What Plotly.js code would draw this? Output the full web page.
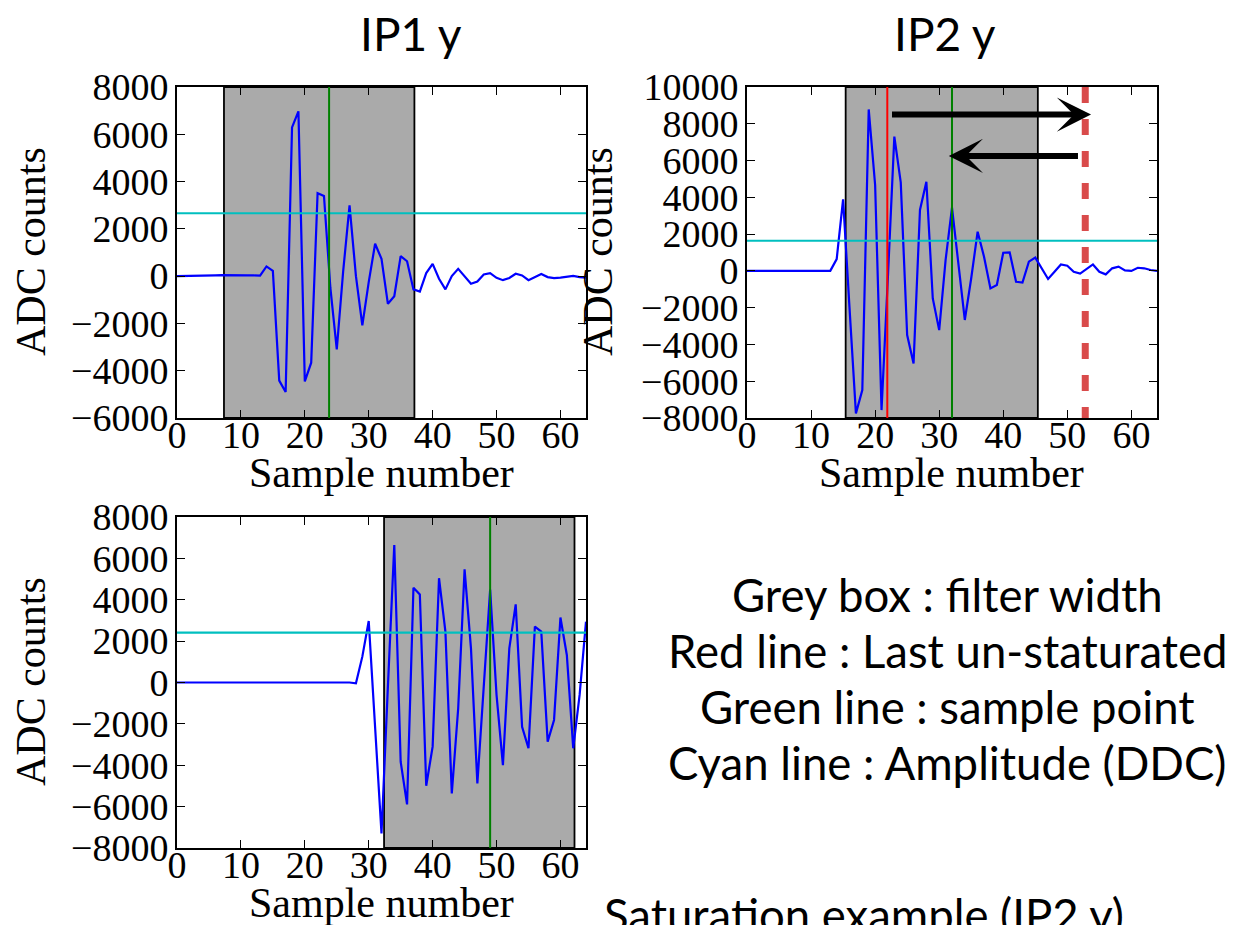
<!DOCTYPE html>
<html>
<head>
<meta charset="utf-8">
<script src="https://cdn.plot.ly/plotly-3.0.1.min.js"></script>
<style>html,body{margin:0;padding:0;background:#fff;}#chart{width:1245px;height:925px;}</style>
</head>
<body>
<div id="chart"></div>
<script>
// ---------- data ----------
const samples = Array.from({length: 65}, (_, i) => i);

const ip1Counts = [0,0,0,0,10,20,30,40,30,30,30,30,30,20,
  410,225,-4420,-4900,6290,6970,-4450,-3660,3510,3390,-500,-3100,200,2990,0,-2080,
  -250,1370,730,-1170,-850,850,630,-560,-650,130,520,-110,-560,0,310,0,-320,-230,
  70,130,-70,-170,-80,100,30,-170,-30,90,-40,-80,-60,-30,10,-40,-60];

const ip2Counts = [0,0,0,0,0,0,0,0,0,0,0,0,0,0,
  640,3890,-2000,-7750,-6480,8780,4670,-7570,-300,7300,4810,-3490,-5030,3310,4850,-1500,
  -3220,590,3440,500,-2670,-400,2130,770,-950,-770,990,1010,-590,-630,500,720,140,-440,
  -50,350,280,-50,-150,100,350,-50,-190,140,230,30,0,170,140,50,0];

const ip3Counts = [0,0,0,0,0,0,0,0,0,0,0,0,0,0,0,0,0,0,0,0,0,0,0,0,0,0,0,
  0,-40,1250,2970,-2200,-7300,-200,6650,-3830,-5890,4580,4260,-4990,-3100,5040,2460,
  -5360,-1250,5470,1650,-4880,30,4490,-600,-4000,1650,3780,-2140,-3180,2700,2460,
  -2860,-1810,3140,1330,-3180,-600,2940];

const panelTitles = ["IP1 y", "IP2 y"];
const filterStart = [7.35, 15.4, 32.4];    // grey box: filter width
const filterEnd   = [37.15, 45.4, 62.2];
const samplePoint = [23.8, 32.0, 49.0];     // green lines
const amplitude   = [2660, 1640, 2410];     // cyan lines (DDC)
const lastUnsaturated = 21.9;              // red line (IP2)
const saturationEnd   = 52.8;              // dashed red line (IP2)
const arrowTail = [22.4, 51.9];
const arrowHead = [53.7, 31.5];
const arrowLevel = [8500, 6250];

const xTicks = [0,10,20,30,40,50,60];
const yRanges = [[-6000, 8000], [-8000, 10000], [-8000, 8000]];
const legendLines = ["Grey box : filter width", "Red line : Last un-staturated",
                     "Green line : sample point", "Cyan line : Amplitude (DDC)"];
const footer = "Saturation example (IP2 y)";
const xLabel = "Sample number";
const yLabel = "ADC counts";

// ---------- styling ----------
const W = 1245, H = 925;
const serif = "Liberation Serif, Times New Roman, serif";
const sans = "Lato, Open Sans, sans-serif";
const px = v => v / W, py = v => 1 - v / H;

const series = [ip1Counts, ip2Counts, ip3Counts];
const axKeys = [["x","y"],["x2","y2"],["x3","y3"]];
const xDomains = [[px(177), px(586)], [px(747), px(1157)], [px(177), px(586)]];
const yDomains = [[py(418), py(87)], [py(418), py(87)], [py(848), py(517)]];

const traces = series.map((s, i) => ({
  x: samples, y: s, xaxis: axKeys[i][0], yaxis: axKeys[i][1],
  type: "scatter", mode: "lines", line: {color: "#0000ff", width: 2.2},
  hoverinfo: "skip", showlegend: false
}));

const layout = {
  width: W, height: H,
  margin: {l: 0, r: 0, t: 0, b: 0},
  paper_bgcolor: "#fff", plot_bgcolor: "#fff",
  showlegend: false,
  shapes: [], annotations: []
};

function axisX(i) {
  return {
    domain: xDomains[i], anchor: axKeys[i][1], range: [0, 64],
    tickvals: xTicks, ticktext: xTicks.map(String),
    ticks: "inside", ticklen: 8, tickwidth: 1, tickcolor: "#000",
    showline: true, linecolor: "#000", linewidth: 2, mirror: "ticks",
    showgrid: false, zeroline: false, ticklabelstandoff: -18,
    tickfont: {family: serif, size: 38, color: "#000"}
  };
}
function axisY(i) {
  return {
    domain: yDomains[i], anchor: axKeys[i][0], range: yRanges[i],
    dtick: 2000, tick0: 0,
    ticks: "inside", ticklen: 8, tickwidth: 1, tickcolor: "#000",
    showline: true, linecolor: "#000", linewidth: 2, mirror: "ticks",
    showgrid: false, zeroline: false, ticklabelstandoff: -1,
    tickformat: "d",
    tickfont: {family: serif, size: 38, color: "#000"}
  };
}
for (let i = 0; i < 3; i++) {
  const sfx = i === 0 ? "" : String(i + 1);
  layout["xaxis" + sfx] = axisX(i);
  layout["yaxis" + sfx] = axisY(i);
  const xr = axKeys[i][0], yr = axKeys[i][1];
  // grey filter box
  layout.shapes.push({type: "rect", xref: xr, yref: yr + " domain",
    x0: filterStart[i], x1: filterEnd[i], y0: 0, y1: 1,
    fillcolor: "#aaaaaa", line: {color: "#000", width: 1.8}, layer: "below"});
  // cyan amplitude line
  layout.shapes.push({type: "line", xref: xr + " domain", yref: yr,
    x0: 0, x1: 1, y0: amplitude[i], y1: amplitude[i],
    line: {color: "#00bfbf", width: 2.2}, layer: "above"});
  // green sample point
  layout.shapes.push({type: "line", xref: xr, yref: yr + " domain",
    x0: samplePoint[i], x1: samplePoint[i], y0: 0, y1: 1,
    line: {color: "#008000", width: 2}, layer: "above"});
}
// red solid line (IP2)
layout.shapes.push({type: "line", xref: "x2", yref: "y2 domain",
  x0: lastUnsaturated, x1: lastUnsaturated, y0: 0, y1: 1,
  line: {color: "#ff0000", width: 2}, layer: "above"});
// dashed red line (IP2)
layout.shapes.push({type: "line", xref: "x2", yref: "y2 domain",
  x0: saturationEnd, x1: saturationEnd, y0: 1, y1: 0,
  line: {color: "#d94b4b", width: 7, dash: "16px,16px"}, layer: "above"});

// arrows
for (let k = 0; k < arrowTail.length; k++) {
  layout.annotations.push({xref: "x2", yref: "y2", axref: "x2", ayref: "y2",
    x: arrowHead[k], y: arrowLevel[k], ax: arrowTail[k], ay: arrowLevel[k],
    text: "", showarrow: true, arrowhead: 3, arrowsize: 0.95, arrowwidth: 6,
    arrowcolor: "#000", standoff: 0, startstandoff: 0});
}

// panel titles
const titleX = [px(411), px(945)];
panelTitles.forEach((t, i) => layout.annotations.push({
  xref: "paper", yref: "paper", x: titleX[i], y: py(34), text: t, showarrow: false,
  xanchor: "center", yanchor: "middle", font: {family: sans, size: 46, color: "#000"}}));

// axis titles
const yLabX = [px(31), px(598), px(31)];
const yLabY = [py(252), py(252), py(682)];
const xLabX = [px(381), px(951), px(381)];
const xLabY = [py(473), py(473), py(903)];
for (let i = 0; i < 3; i++) {
  layout.annotations.push({xref: "paper", yref: "paper", x: yLabX[i], y: yLabY[i],
    text: yLabel, textangle: -90, showarrow: false, xanchor: "center", yanchor: "middle",
    font: {family: serif, size: 42, color: "#000"}});
  layout.annotations.push({xref: "paper", yref: "paper", x: xLabX[i], y: xLabY[i],
    text: xLabel, showarrow: false, xanchor: "center", yanchor: "middle",
    font: {family: serif, size: 42, color: "#000"}});
}

// explanation text
legendLines.forEach((t, k) => layout.annotations.push({
  xref: "paper", yref: "paper", x: px(947), y: py(594 + 56 * k), text: t, showarrow: false,
  xanchor: "center", yanchor: "middle", font: {family: sans, size: 45.5, color: "#000"}}));

layout.annotations.push({xref: "paper", yref: "paper", x: px(864), y: py(885),
  text: footer, showarrow: false, xanchor: "center", yanchor: "top",
  font: {family: sans, size: 45.5, color: "#000"}});

Plotly.newPlot("chart", traces, layout, {staticPlot: true, displayModeBar: false});
</script>
</body>
</html>
